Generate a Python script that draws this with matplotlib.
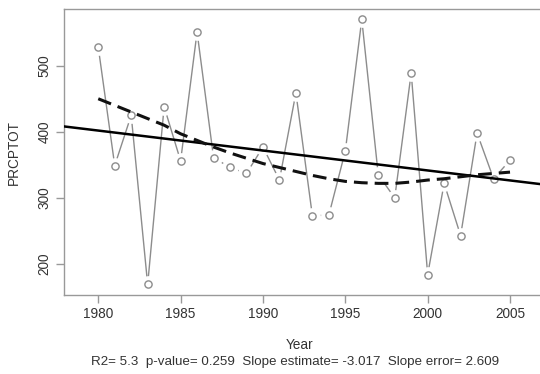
import matplotlib
matplotlib.use("Agg")
import matplotlib.pyplot as plt
import numpy as np

plt.rcParams['font.family'] = ['Liberation Sans', 'DejaVu Sans']

years = list(range(1980, 2006))
prcptot = [528, 349, 425, 169, 438, 356, 551, 361, 346, 337,
           377, 327, 459, 273, 274, 371, 570, 335, 300, 489,
           184, 322, 243, 398, 329, 357]
lowess = [450, 440, 430, 420, 410, 397, 387, 377, 368, 360,
          352, 346, 340, 334, 329, 325, 323, 322, 322, 324,
          327, 329, 332, 335, 337, 339]
slope_est = -3.017
xticks = [1980, 1985, 1990, 1995, 2000, 2005]
yticks = [200, 300, 400, 500]
subtitle = "R2= 5.3  p-value= 0.259  Slope estimate= -3.017  Slope error= 2.609"

fig = plt.figure(figsize=(5.4, 3.74), dpi=100)
ax = fig.add_axes([64/540, 1 - 295/374, (546 - 64)/540, (295 - 9)/374])

grey = '#8c8c8c'
ax.plot(years, prcptot, color=grey, lw=1.0, zorder=1)
ax.plot(years, prcptot, ls='none', marker='o', ms=11, mfc='white', mec='white', zorder=2)
ax.plot(years, prcptot, ls='none', marker='o', ms=5.2, mfc='white', mec=grey, mew=1.0, zorder=3)

xm, ym = np.mean(years), np.mean(prcptot)
ax.axline((xm, ym), slope=slope_est, color='black', lw=1.8, zorder=4)
ax.plot(years, lowess, color='#111111', lw=2.2, dashes=(4.5, 2.3), zorder=5)

ax.set_xlim(1977.92, 2006.82 + 6/16.47)
ax.set_ylim(153.1, 585.8)
ax.set_xticks(xticks)
ax.set_yticks(yticks)
ax.set_yticklabels([str(v) for v in yticks], rotation=90, va='center')

for s in ax.spines.values():
    s.set_color('#999999')
    s.set_linewidth(1.0)

ax.tick_params(axis='both', colors='#999999', labelcolor='#333333', labelsize=9.8,
               length=5.8, width=1.0)
ax.tick_params(axis='x', pad=3)
ax.tick_params(axis='y', pad=3)

fig.text(14/540, 1 - 152/374, 'PRCPTOT', rotation=90, ha='center', va='center',
         fontsize=9.8, color='#333333')
fig.text(300/540, 1 - 345/374, 'Year', ha='center', va='center', fontsize=9.8, color='#333333')
fig.text(295/540, 1 - 362/374, subtitle, ha='center', va='center', fontsize=9.6, color='#333333')

fig.savefig('out.png', dpi=100)
